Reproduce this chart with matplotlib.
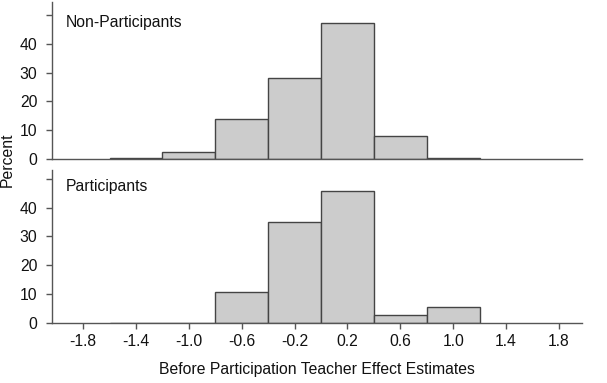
import matplotlib
matplotlib.use("Agg")
import matplotlib.pyplot as plt
import numpy as np

plt.rcParams['font.family'] = ['Liberation Sans', 'DejaVu Sans']

bin_centers = [-1.4, -1.0, -0.6, -0.2, 0.2, 0.6, 1.0]
non_participants = [0.45, 2.3, 14.0, 28.3, 47.2, 7.9, 0.4]
participants = [0.0, 0.0, 10.9, 34.9, 45.8, 2.8, 5.5]
xticks = [-1.8, -1.4, -1.0, -0.6, -0.2, 0.2, 0.6, 1.0, 1.4, 1.8]
xtick_labels = ["-1.8", "-1.4", "-1.0", "-0.6", "-0.2", "0.2", "0.6", "1.0", "1.4", "1.8"]
yticks = [0, 10, 20, 30, 40, 50]
ytick_labels = ["0", "10", "20", "30", "40", ""]
bin_width = 0.4

W, H = 607, 383
FS = 11.3
fig = plt.figure(figsize=(W / 100, H / 100), dpi=100)

def px_axes(left, top, right, bottom):
    return fig.add_axes([left / W, 1 - bottom / H, (right - left) / W, (bottom - top) / H])

ax1 = px_axes(52, 2, 582, 159)
ax2 = px_axes(52, 170, 582, 323)

spine_col = '#555555'
txt_col = '#111111'
for ax, vals in [(ax1, non_participants), (ax2, participants)]:
    ax.bar(bin_centers, vals, width=bin_width, color='#cccccc', edgecolor='#444444', linewidth=1.0, zorder=2)
    ax.set_xlim(-2.035, 1.974)
    ax.set_yticks(yticks)
    ax.set_yticklabels(ytick_labels)
    for s in ['top', 'right']:
        ax.spines[s].set_visible(False)
    ax.spines['left'].set_color(spine_col)
    ax.spines['bottom'].set_color(spine_col)
    ax.spines['left'].set_linewidth(1.0)
    ax.spines['bottom'].set_linewidth(1.0)
    ax.tick_params(axis='y', length=4, width=1, color=spine_col, labelsize=FS, pad=6.5, labelcolor=txt_col)

ax1.set_ylim(0, 54.6)
ax2.set_ylim(0, 53.0)
ax1.set_xticks([])
ax2.set_xticks(xticks)
ax2.set_xticklabels(xtick_labels)
ax2.tick_params(axis='x', length=4, width=1, color=spine_col, labelsize=FS, pad=4, labelcolor=txt_col)
ax2.set_xlabel("Before Participation Teacher Effect Estimates", fontsize=FS, labelpad=9, color=txt_col)

fig.text(66 / W, 1 - 22 / H, "Non-Participants", fontsize=FS, ha='left', va='center', color=txt_col)
fig.text(66 / W, 1 - 186 / H, "Participants", fontsize=FS, ha='left', va='center', color=txt_col)
fig.text(0.0, 1 - 160 / H, "Percent", rotation=90, va='center', ha='left', fontsize=FS, color=txt_col)

fig.savefig("out.png", dpi=100)
